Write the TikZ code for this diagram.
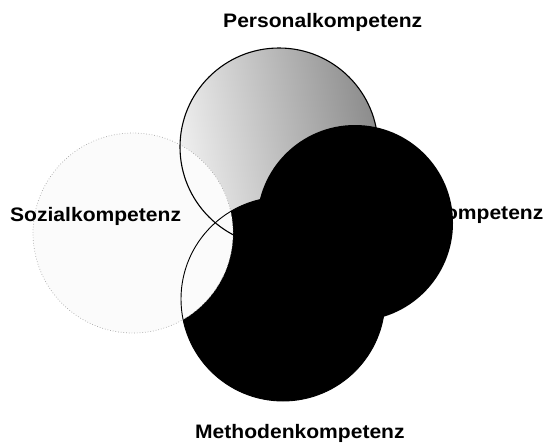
\documentclass[tikz,border=0pt]{standalone}
\usepackage{fontspec}
\setmainfont{Liberation Sans}[FakeStretch=1.08]
\begin{document}
\begin{tikzpicture}[x=1pt,y=-1pt,
  lbl/.style={inner sep=0pt, anchor=base west, font=\fontsize{19.5}{22}\selectfont\bfseries},
  blackdisc/.style={fill=black},
  ringline/.style={draw=black, line width=1.1pt},
  softring/.style={draw=gray!70, line width=0.7pt, dotted, fill=gray!3}]
\useasboundingbox (0,0) rectangle (545,447);
% label partly hidden by the black disc
\node[lbl] (fach) at (384,219) {Fachkompetenz};
% Personalkompetenz disc
\shade[left color=gray!12, right color=gray!90, shading angle=100] (279,147) circle[radius=99pt];
% black discs
\fill[blackdisc] (355,223) circle[radius=98pt];
\fill[blackdisc] (283,299) circle[radius=102pt];
% Sozialkompetenz disc
\path[softring] (133,233) circle[radius=100pt];
% outlines
\draw[ringline] (279,147) circle[radius=99pt];
\draw[draw=black, line width=0.9pt] (283,299) circle[radius=102pt];
% labels
\node[lbl] (pers) at (223,27) {Personalkompetenz};
\node[lbl] (soz) at (10,221) {Sozialkompetenz};
\node[lbl] (meth) at (195,438) {Methodenkompetenz};
\end{tikzpicture}
\end{document}
